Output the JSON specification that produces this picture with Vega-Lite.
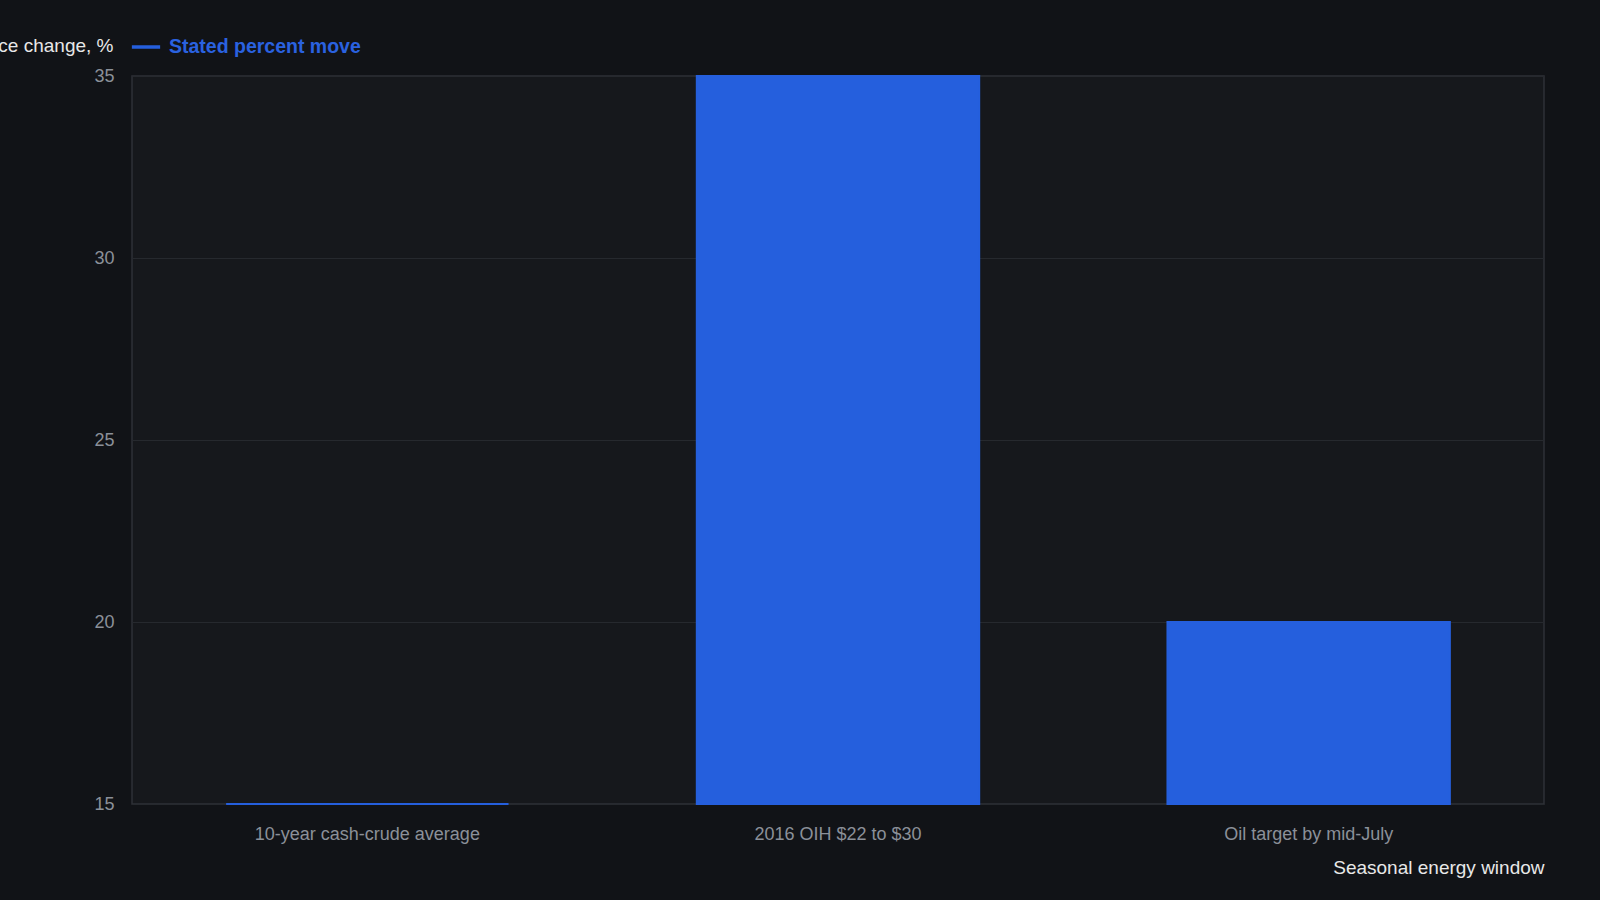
{
  "$schema": "https://vega.github.io/schema/vega-lite/v6.json",
  "autosize": {"type": "none"},
  "padding": {"left": 132, "top": 76, "right": 56, "bottom": 96},
  "width": 1412,
  "height": 728,
  "background": "#111317",
  "config": {
    "font": "Liberation Sans",
    "view": {"fill": "#16181c", "stroke": "#2e3137", "strokeWidth": 1.5}
  },
  "data": {
    "values": [
      {"window": "10-year cash-crude average", "change": 15, "series": "Stated percent move"},
      {"window": "2016 OIH $22 to $30", "change": 35, "series": "Stated percent move"},
      {"window": "Oil target by mid-July", "change": 20, "series": "Stated percent move"}
    ]
  },
  "mark": {"type": "bar", "stroke": "#255fdd", "strokeWidth": 2},
  "encoding": {
    "x": {
      "field": "window",
      "type": "nominal",
      "sort": null,
      "scale": {"paddingInner": 0.4, "paddingOuter": 0.2},
      "title": "Seasonal energy window",
      "axis": {
        "labelAngle": 0,
        "labelLimit": 0,
        "labelColor": "#8b9099",
        "labelFontSize": 18,
        "labelPadding": 21,
        "ticks": false,
        "domain": false,
        "titleColor": "#e8e8e8",
        "titleFontSize": 19,
        "titleFontWeight": "normal",
        "titleAnchor": "end",
        "titlePadding": 15
      }
    },
    "y": {
      "field": "change",
      "type": "quantitative",
      "scale": {"domain": [15, 35], "zero": false, "nice": false},
      "title": "Price change, %",
      "axis": {
        "values": [15, 20, 25, 30, 35],
        "labelColor": "#8b9099",
        "labelFontSize": 18,
        "labelPadding": 18,
        "ticks": false,
        "domain": false,
        "gridColor": "#26292e",
        "gridWidth": 1.2,
        "titleAngle": 0,
        "titleAlign": "right",
        "titleBaseline": "middle",
        "titleX": -19,
        "titleY": -31,
        "titleColor": "#e8e8e8",
        "titleFontSize": 19,
        "titleFontWeight": "normal"
      }
    },
    "y2": {"datum": 15},
    "color": {
      "field": "series",
      "type": "nominal",
      "scale": {"range": ["#255fdd"]},
      "legend": {
        "title": null,
        "orient": "none",
        "legendX": -2,
        "legendY": -45,
        "symbolType": "stroke",
        "symbolSize": 800,
        "symbolStrokeWidth": 3.5,
        "labelLimit": 0,
        "labelColor": "#2a62e0",
        "labelFontSize": 19.5,
        "labelFontWeight": "bold",
        "labelOffset": 7
      }
    }
  }
}
